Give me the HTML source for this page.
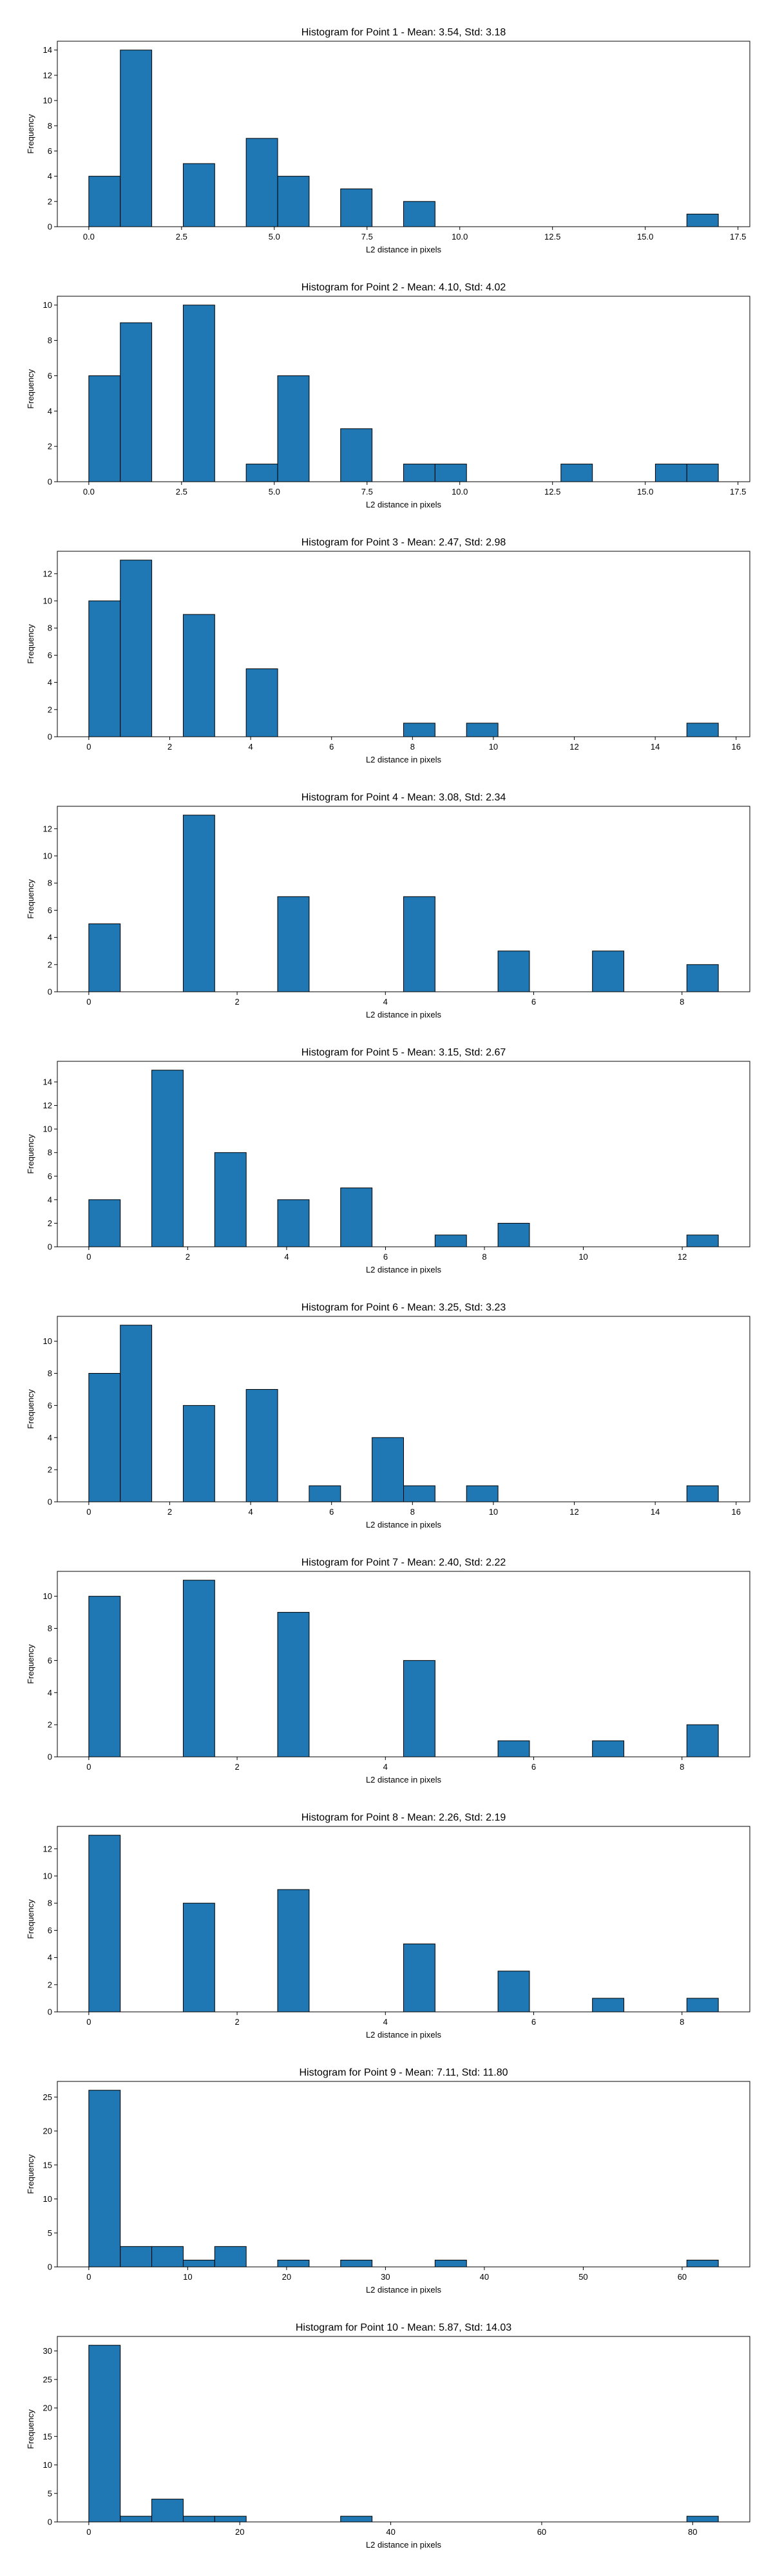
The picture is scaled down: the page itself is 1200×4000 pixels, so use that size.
<!DOCTYPE html>
<html><head><meta charset="utf-8"><style>
html,body{margin:0;padding:0;background:#fff;}
svg{display:block;font-family:"Liberation Sans","DejaVu Sans",sans-serif;}
</style></head><body>
<svg id="fig" width="1200" height="4000" viewBox="0 0 1200 4000" xmlns="http://www.w3.org/2000/svg"></svg>
<script>
// Data
const titles = [
 "Histogram for Point 1 - Mean: 3.54, Std: 3.18",
 "Histogram for Point 2 - Mean: 4.10, Std: 4.02",
 "Histogram for Point 3 - Mean: 2.47, Std: 2.98",
 "Histogram for Point 4 - Mean: 3.08, Std: 2.34",
 "Histogram for Point 5 - Mean: 3.15, Std: 2.67",
 "Histogram for Point 6 - Mean: 3.25, Std: 3.23",
 "Histogram for Point 7 - Mean: 2.40, Std: 2.22",
 "Histogram for Point 8 - Mean: 2.26, Std: 2.19",
 "Histogram for Point 9 - Mean: 7.11, Std: 11.80",
 "Histogram for Point 10 - Mean: 5.87, Std: 14.03"
];
const dataMax = [16.97, 16.97, 15.56, 8.49, 12.73, 15.56, 8.49, 8.49, 63.66, 83.4];
const counts1 = [4,14,0,5,0,7,4,0,3,0,2,0,0,0,0,0,0,0,0,1];
const counts2 = [6,9,0,10,0,1,6,0,3,0,1,1,0,0,0,1,0,0,1,1];
const counts3 = [10,13,0,9,0,5,0,0,0,0,1,0,1,0,0,0,0,0,0,1];
const counts4 = [5,0,0,13,0,0,7,0,0,0,7,0,0,3,0,0,3,0,0,2];
const counts5 = [4,0,15,0,8,0,4,0,5,0,0,1,0,2,0,0,0,0,0,1];
const counts6 = [8,11,0,6,0,7,0,1,0,4,1,0,1,0,0,0,0,0,0,1];
const counts7 = [10,0,0,11,0,0,9,0,0,0,6,0,0,1,0,0,1,0,0,2];
const counts8 = [13,0,0,8,0,0,9,0,0,0,5,0,0,3,0,0,1,0,0,1];
const counts9 = [26,3,3,1,3,0,1,0,1,0,0,1,0,0,0,0,0,0,0,1];
const counts10 = [31,1,4,1,1,0,0,0,1,0,0,0,0,0,0,0,0,0,0,1];
const xTicks = [
 ["0.0","2.5","5.0","7.5","10.0","12.5","15.0","17.5"],
 ["0.0","2.5","5.0","7.5","10.0","12.5","15.0","17.5"],
 ["0","2","4","6","8","10","12","14","16"],
 ["0","2","4","6","8"],
 ["0","2","4","6","8","10","12"],
 ["0","2","4","6","8","10","12","14","16"],
 ["0","2","4","6","8"],
 ["0","2","4","6","8"],
 ["0","10","20","30","40","50","60"],
 ["0","20","40","60","80"]
];
const yTickStep = [2,2,2,2,2,2,2,2,5,5];

const allCounts = [counts1,counts2,counts3,counts4,counts5,counts6,counts7,counts8,counts9,counts10];
const NS = "http://www.w3.org/2000/svg";
const svg = document.getElementById('fig');
const L = 89, R = 1164, H = 288;
function mk(tag, attrs, parent){
  const e = document.createElementNS(NS, tag);
  for (const k in attrs) e.setAttribute(k, attrs[k]);
  parent.appendChild(e);
  return e;
}
for (let c = 0; c < 10; c++) {
  const T = 64 + 396*c, B = T + H;
  const counts = allCounts[c];
  const xmax = dataMax[c], xmin = 0;
  const pad = (xmax - xmin)*0.05;
  const x0 = xmin - pad, x1 = xmax + pad;
  const xs = v => L + (v - x0)/(x1 - x0)*(R - L);
  const ymax = Math.max(...counts)*1.05;
  const ys = v => B - v/ymax*H;
  const g = mk('g', {}, svg);
  
  
  const t = mk('text', {x:(L+R)/2, y:T-9, 'text-anchor':'middle', 'font-size':'16', fill:'#000'}, g);
  t.textContent = titles[c];
  
  
  const w = (xmax - xmin)/counts.length;
  counts.forEach((v, i) => {
    const xa = xs(xmin + i*w), xb = xs(xmin + (i+1)*w);
    const r = mk('rect', {x:xa, y:ys(v), width:xb-xa, height:B-ys(v), fill:'#1f77b4', stroke:'#000', 'stroke-width':'1'}, g);
    
    
  });
  // x ticks
  xTicks[c].forEach(lbl => {
    const v = parseFloat(lbl), X = xs(v);
    mk('line', {x1:X, x2:X, y1:B, y2:B+5, stroke:'#000', 'stroke-width':'1'}, g);
    const tt = mk('text', {x:X, y:B+20, 'text-anchor':'middle', 'font-size':'13', fill:'#000'}, g);
    tt.textContent = lbl;
    
    
  });
  // y ticks
  for (let v = 0; v <= ymax; v += yTickStep[c]) {
    const Y = ys(v);
    mk('line', {x1:L-5, x2:L, y1:Y, y2:Y, stroke:'#000', 'stroke-width':'1'}, g);
    const tt = mk('text', {x:L-8, y:Y+4.5, 'text-anchor':'end', 'font-size':'13', fill:'#000'}, g);
    tt.textContent = String(v);
    
    
  }
  const frame = mk('rect', {x:L, y:T, width:R-L, height:H, fill:'none', stroke:'#000', 'stroke-width':'1'}, g);
  
  
  const xl = mk('text', {x:(L+R)/2, y:B+40, 'text-anchor':'middle', 'font-size':'13', fill:'#000'}, g);
  xl.textContent = 'L2 distance in pixels';
  
  
  const yl = mk('text', {x:0, y:0, 'text-anchor':'middle', 'font-size':'13', fill:'#000', transform:'translate(52,' + (T+H/2) + ') rotate(-90)'}, g);
  yl.textContent = 'Frequency';
  
  
}
</script>
</body></html>
